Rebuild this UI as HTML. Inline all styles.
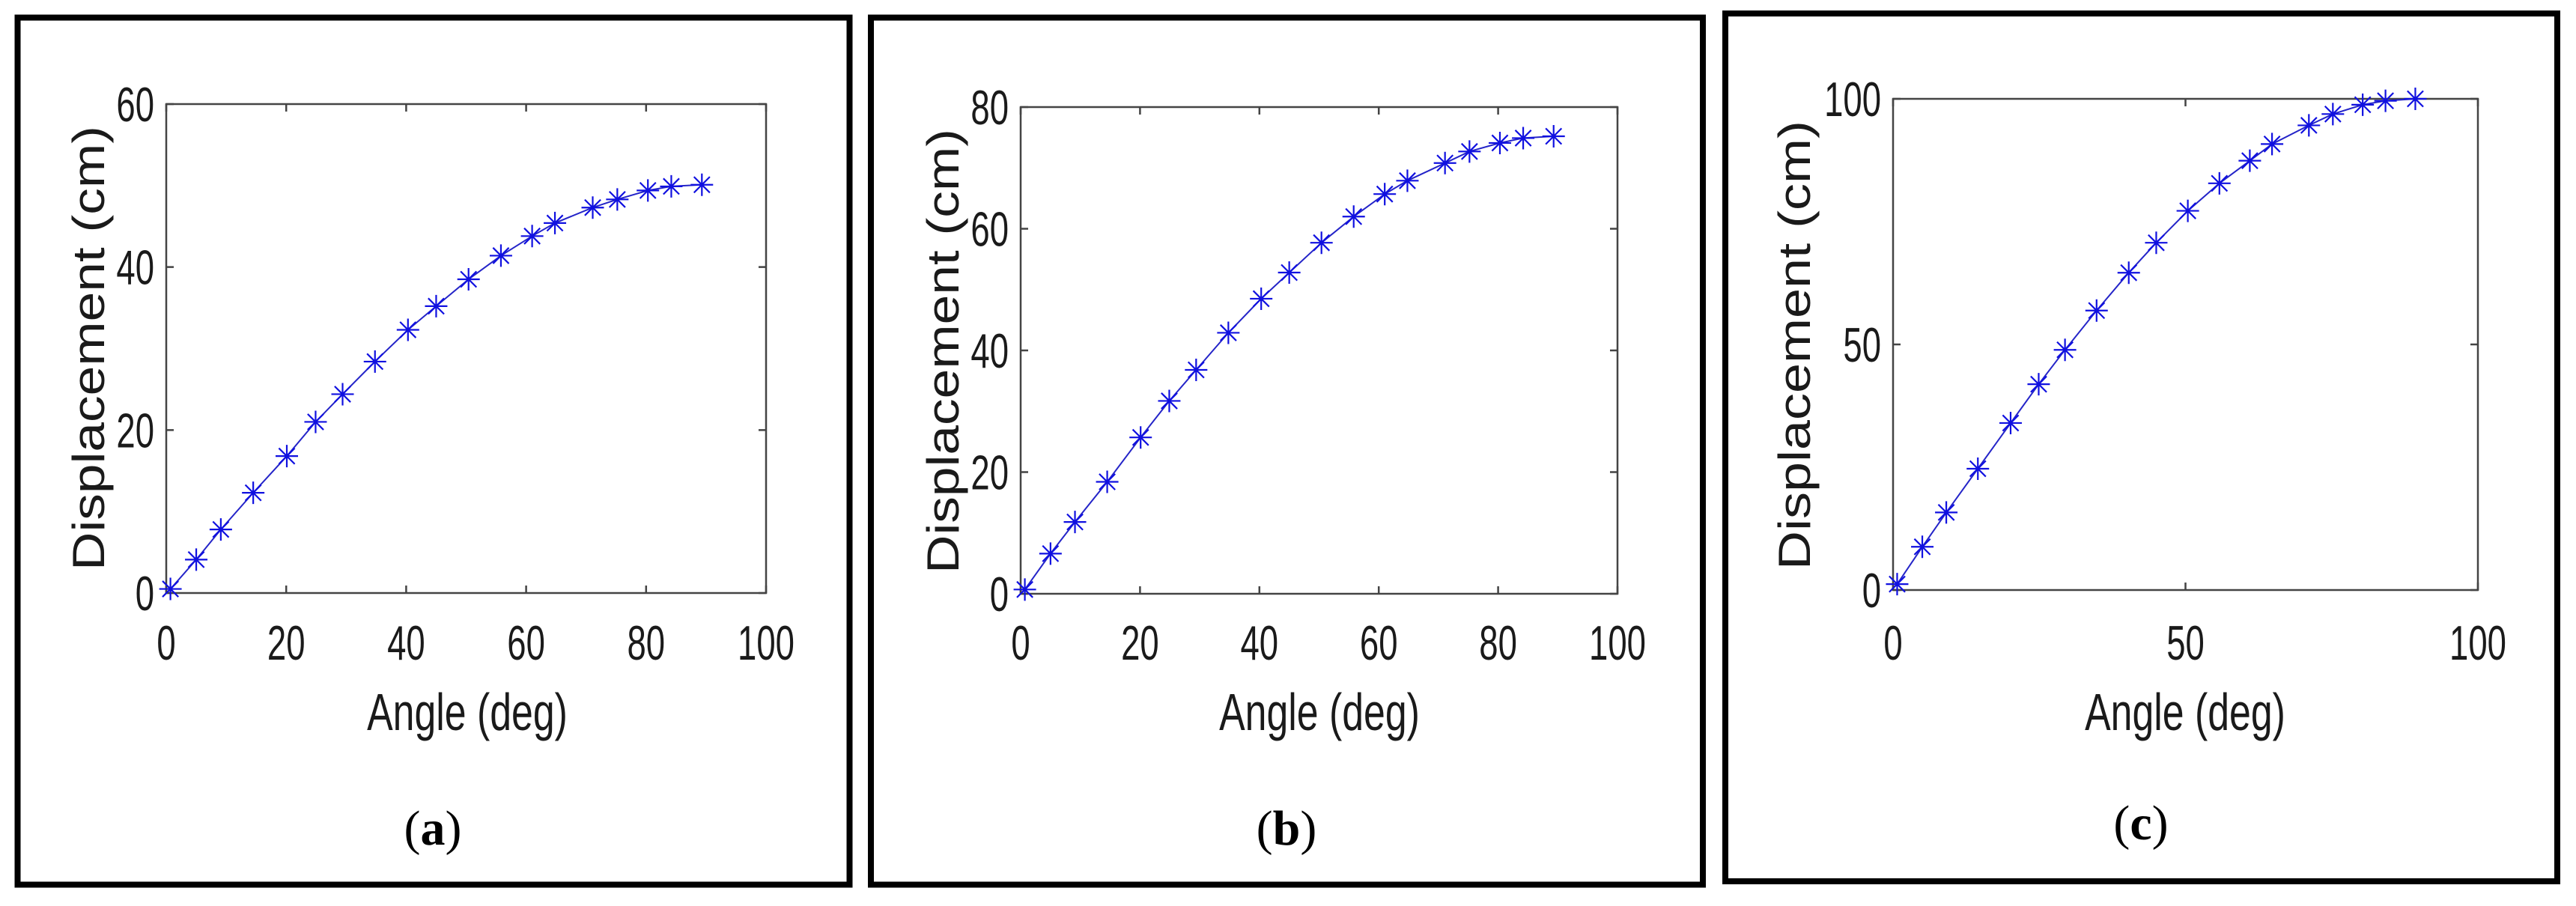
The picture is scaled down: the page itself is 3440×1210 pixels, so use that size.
<!DOCTYPE html>
<html><head><meta charset="utf-8"><style>
html,body{margin:0;padding:0;background:#fff;}
svg{display:block;}
</style></head><body>
<svg id="fig" width="3440" height="1210" viewBox="0 0 3440 1210" xmlns="http://www.w3.org/2000/svg"></svg>
<script>
const anglesA = [0.7,5.0,9.1,14.5,20.1,24.9,29.4,34.8,40.3,45.0,50.4,55.8,61.0,64.8,71.1,75.2,80.3,84.2,89.3];
const dispA = [0.5,4.1,7.8,12.3,16.8,21.0,24.4,28.4,32.3,35.2,38.5,41.4,43.8,45.4,47.3,48.3,49.4,49.9,50.1];
const dispB = [0.7,6.6,11.8,18.4,25.7,31.7,36.8,42.9,48.5,52.8,57.7,62.0,65.7,67.9,70.8,72.7,74.1,74.9,75.2];
const dispC = [1.2,8.8,15.8,24.7,34.0,41.9,48.9,56.9,64.6,70.7,77.2,82.8,87.4,90.8,94.6,96.9,98.8,99.6,100.0];
const xTicksAB = [0,20,40,60,80,100];
const xTicksC = [0,50,100];
const yTicksA = [0,20,40,60];
const yTicksB = [0,20,40,60,80];
const yTicksC = [0,50,100];

const NS = 'http://www.w3.org/2000/svg';
const svg = document.getElementById('fig');
function mk(tag, attrs, parent){
  const e = document.createElementNS(NS, tag);
  for (const k in attrs) e.setAttribute(k, attrs[k]);
  (parent||svg).appendChild(e);
  return e;
}

const panels = [
  {id:'a', box:[23.5,23.5,1111,1158], plot:[222,139,1023,792], ymax:60, xt:xTicksAB, yt:yTicksA, ys:dispA,
   ytx:124, yty:465, ytl:594, xtx:624, xty:975, cap:[578,1128]},
  {id:'b', box:[1163,23.5,1111,1158], plot:[1363,143,2160,793], ymax:80, xt:xTicksAB, yt:yTicksB, ys:dispB,
   ytx:1265, yty:469, ytl:594, xtx:1762, xty:975, cap:[1718,1128]},
  {id:'c', box:[2304,18,1111,1159], plot:[2528,132,3309,788], ymax:100, xt:xTicksC, yt:yTicksC, ys:dispC,
   ytx:2402, yty:461, ytl:600, xtx:2918, xty:975, cap:[2859,1121]}
];

panels.forEach(p => {
  const g = mk('g', {});
  
  
  const fr = mk('rect', {x:p.box[0], y:p.box[1], width:p.box[2], height:p.box[3], fill:'none', stroke:'#000', 'stroke-width':8}, g);
  
  
  const [L,T,R,B] = p.plot;
  const sx = v => L + (v/100)*(R-L);
  const sy = v => B - (v/p.ymax)*(B-T);
  const ax = mk('rect', {x:L, y:T, width:R-L, height:B-T, fill:'#fff', stroke:'#444', 'stroke-width':2.5}, g);
  
  
  p.xt.forEach(t => {
    const x = sx(t);
    const tk = mk('path', {d:`M${x},${B}v-10M${x},${T}v10`, stroke:'#444', 'stroke-width':2.5}, g);
    
    
    const tx = mk('text', {transform:`translate(${x},881) scale(0.7,1)`, 'text-anchor':'middle', 'font-family':'Liberation Sans, sans-serif', 'font-size':65, fill:'#1a1a1a'}, g);
    tx.textContent = t;
    
    
  });
  p.yt.forEach(t => {
    const y = sy(t);
    const tk = mk('path', {d:`M${L},${y}h10M${R},${y}h-10`, stroke:'#444', 'stroke-width':2.5}, g);
    
    
    const tx = mk('text', {transform:`translate(${L-16},${y+23}) scale(0.7,1)`, 'text-anchor':'end', 'font-family':'Liberation Sans, sans-serif', 'font-size':65, fill:'#1a1a1a'}, g);
    tx.textContent = t;
    
    
  });
  const d = anglesA.map((a,i) => (i?'L':'M') + sx(a).toFixed(1) + ',' + sy(p.ys[i]).toFixed(1)).join('');
  const ln = mk('path', {d:d, fill:'none', stroke:'#2424c8', 'stroke-width':2}, g);
  
  
  anglesA.forEach((a,i) => {
    const x = sx(a), y = sy(p.ys[i]), r = 15, q = r*0.707;
    const m = mk('path', {d:`M${x-r},${y}h${2*r}M${x},${y-r}v${2*r}M${x-q},${y-q}l${2*q},${2*q}M${x-q},${y+q}l${2*q},${-2*q}`, stroke:'#1010e0', 'stroke-width':2.2, fill:'none'}, g);
    
    
  });
  const xt = mk('text', {transform:`translate(${p.xtx},${p.xty}) scale(0.74,1)`, 'text-anchor':'middle', 'font-family':'Liberation Sans, sans-serif', 'font-size':70, fill:'#1a1a1a'}, g);
  xt.textContent = 'Angle (deg)';
  
  
  const yt = mk('text', {transform:`translate(${p.ytx+15},${p.yty}) rotate(-90)`, 'text-anchor':'middle', 'font-family':'Liberation Sans, sans-serif', 'font-size':60, textLength:p.ytl, lengthAdjust:'spacingAndGlyphs', fill:'#1a1a1a'}, g);
  yt.textContent = 'Displacement (cm)';
  
  
  const cp = mk('text', {x:p.cap[0], y:p.cap[1], 'text-anchor':'middle', 'font-family':'Liberation Serif, serif', 'font-size':66, fill:'#000'}, g);
  const t1 = mk('tspan', {}, cp); t1.textContent = '(';
  const t2 = mk('tspan', {'font-weight':'bold'}, cp); t2.textContent = p.id;
  const t3 = mk('tspan', {}, cp); t3.textContent = ')';
  
  
});
</script>
</body></html>
